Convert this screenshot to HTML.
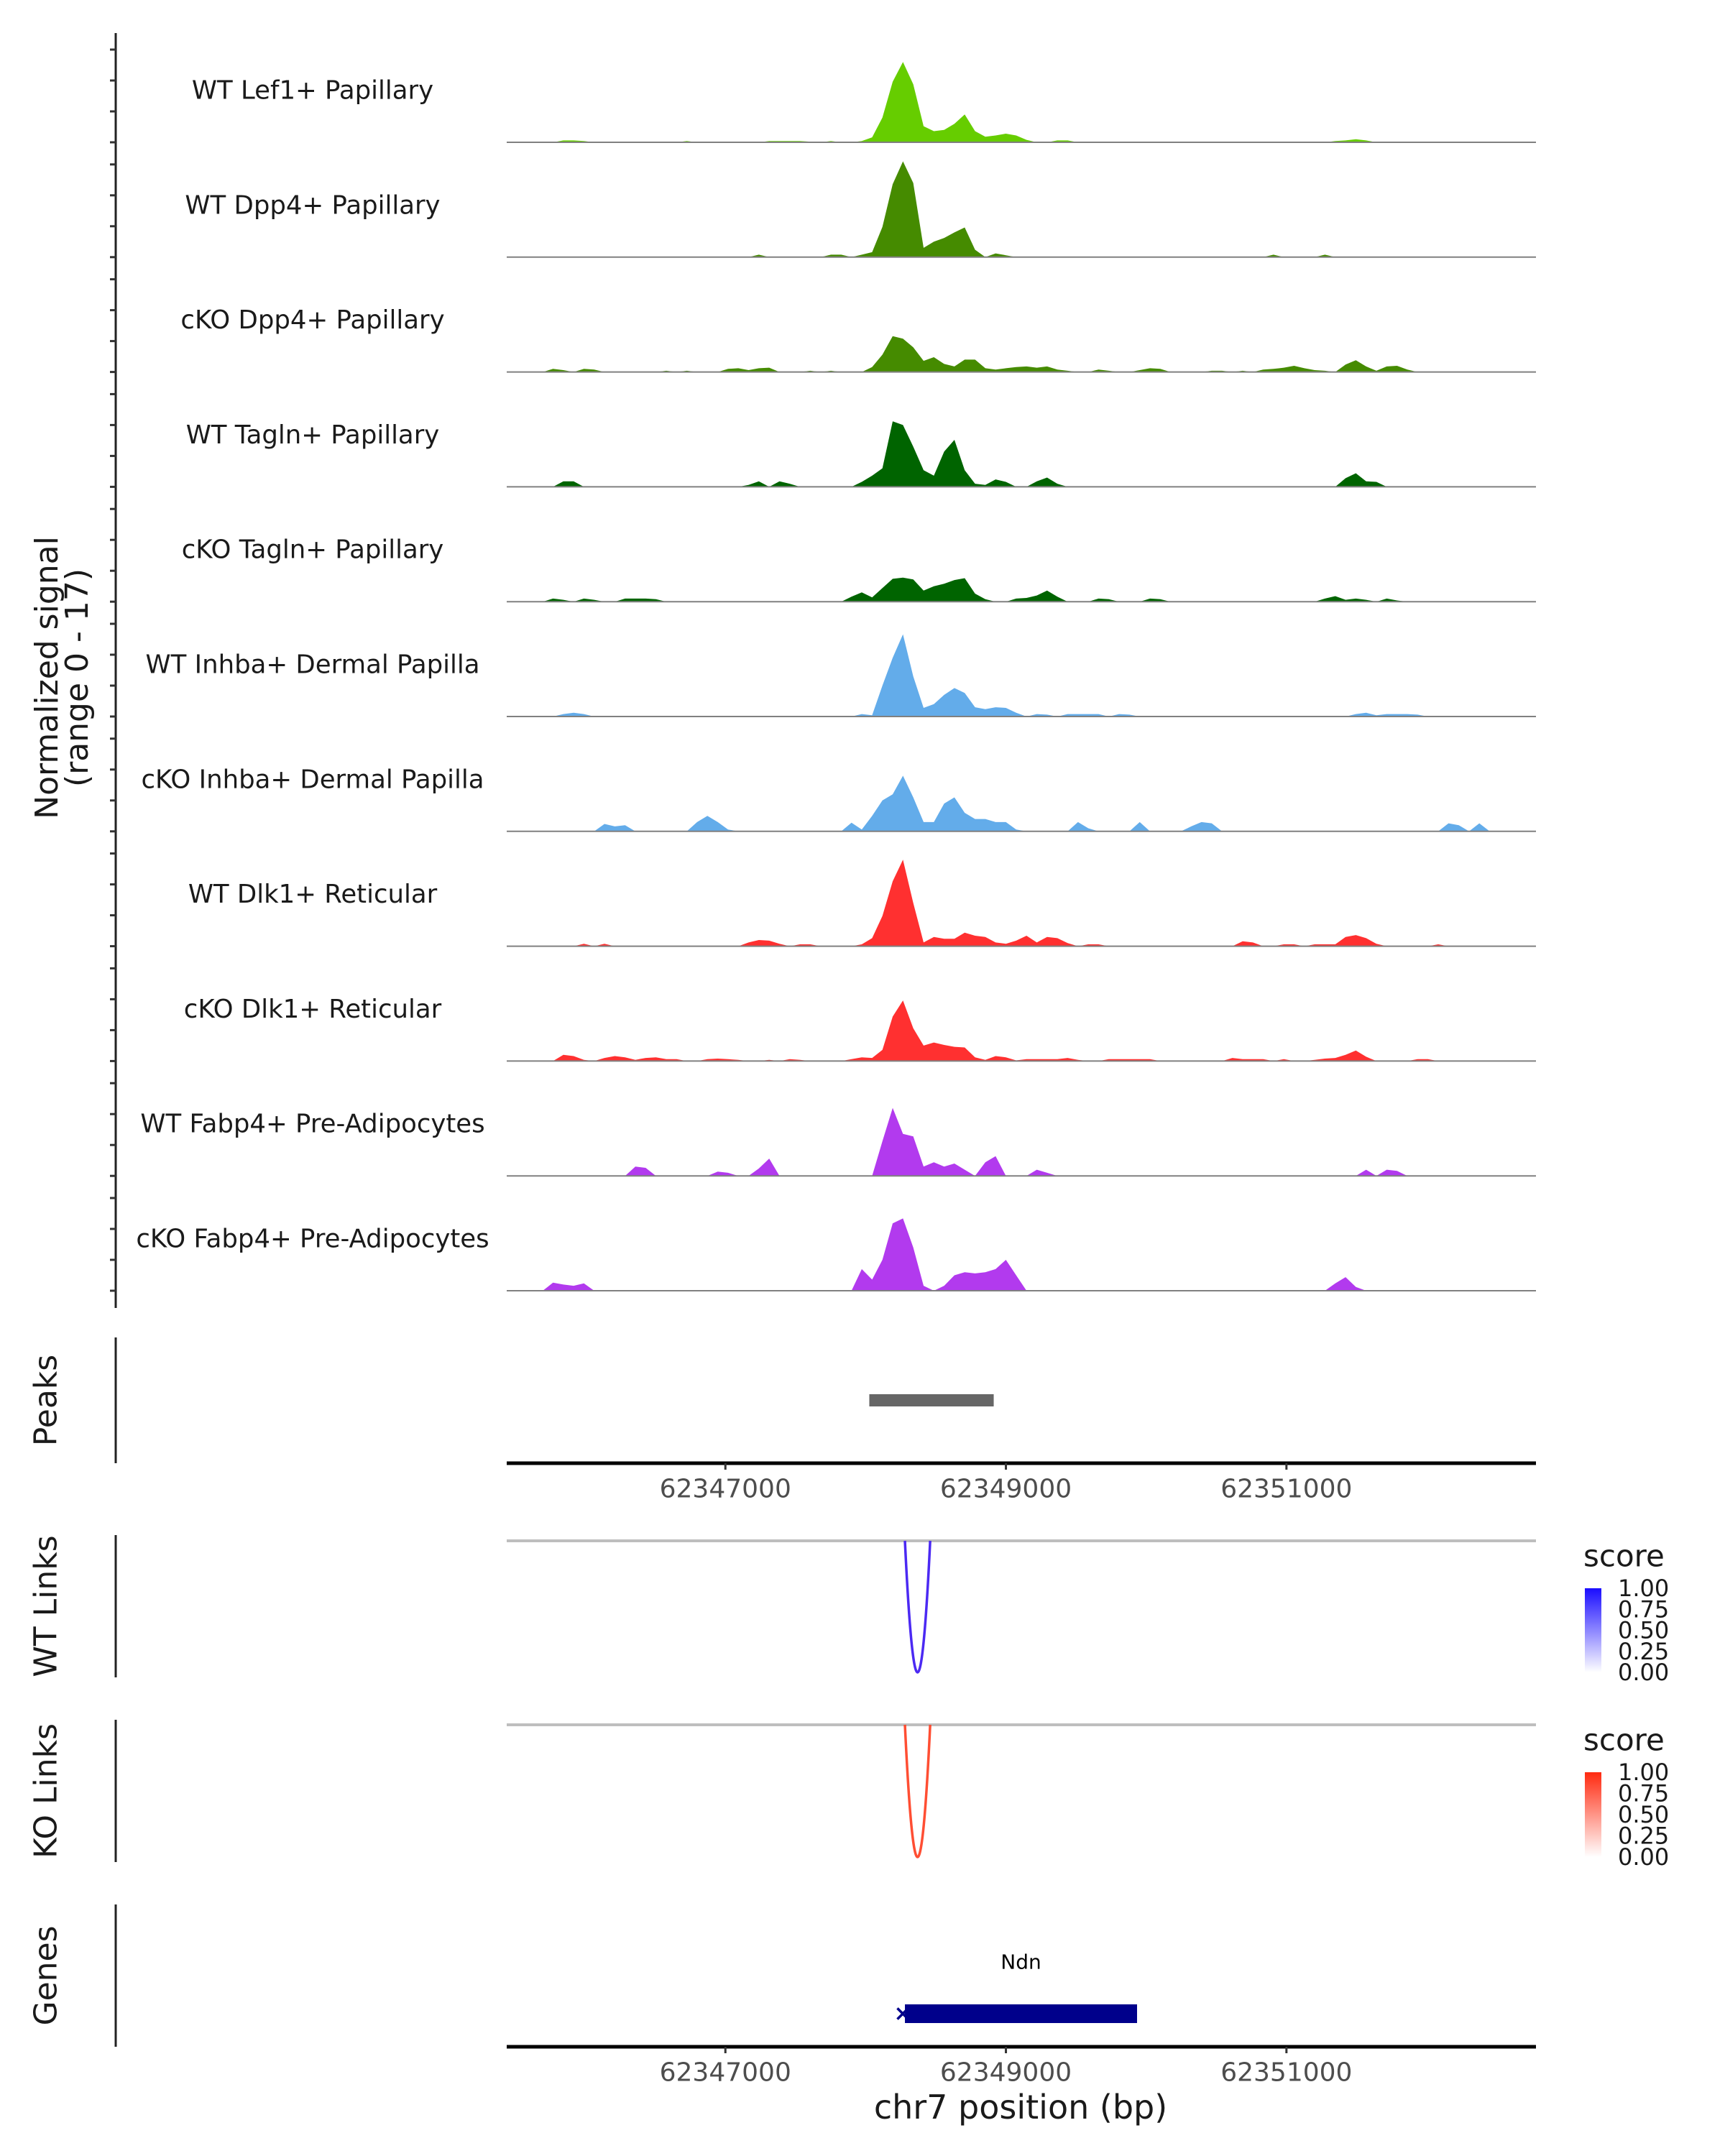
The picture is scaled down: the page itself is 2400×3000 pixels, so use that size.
<!DOCTYPE html>
<html><head><meta charset="utf-8">
<style>
html,body{margin:0;padding:0;background:#fff;}
svg{display:block;font-family:"DejaVu Sans","Liberation Sans",sans-serif;}
</style></head>
<body>
<svg id="chart" xmlns="http://www.w3.org/2000/svg" width="2400" height="3000" viewBox="0 0 2400 3000">
<defs>
<linearGradient id="gblue" x1="0" y1="0" x2="0" y2="1"><stop offset="0" stop-color="#1a0dff"/><stop offset="1" stop-color="#ffffff"/></linearGradient>
<linearGradient id="gred" x1="0" y1="0" x2="0" y2="1"><stop offset="0" stop-color="#ff2a10"/><stop offset="1" stop-color="#ffffff"/></linearGradient>
</defs>
<g id="tracks"></g>
<g id="lower"></g>
</svg>
<script>
// ---- data ----
const regionStart = 62345441;
const regionEnd = 62352779;
const nBins = 100;
const trackNames = ["WT Lef1+ Papillary","WT Dpp4+ Papillary","cKO Dpp4+ Papillary","WT Tagln+ Papillary","cKO Tagln+ Papillary","WT Inhba+ Dermal Papilla","cKO Inhba+ Dermal Papilla","WT Dlk1+ Reticular","cKO Dlk1+ Reticular","WT Fabp4+ Pre-Adipocytes","cKO Fabp4+ Pre-Adipocytes"];
const trackColors = ["#66cd00","#458b00","#458b00","#006400","#006400","#63acea","#63acea","#ff3030","#ff3030","#b23aee","#b23aee"];
// sparse signal: {bin: value}
const sigLef1 = {5:0.3,6:0.3,7:0.2,17:0.2,25:0.2,26:0.2,27:0.2,28:0.2,29:0.1,31:0.2,34:0.2,35:0.8,36:4,37:9.8,38:13,39:9.4,40:2.6,41:1.8,42:2,43:3,44:4.5,45:1.8,46:0.9,47:1.1,48:1.4,49:1.1,50:0.4,53:0.3,54:0.3,77:0.1,78:0.1,80:0.2,81:0.3,82:0.5,83:0.3,85:0.1,92:0.1};
const sigDpp4WT = {24:0.4,31:0.4,32:0.4,34:0.4,35:0.8,36:4.9,37:11.8,38:15.5,39:12,40:1.5,41:2.5,42:3.1,43:4,44:4.8,45:1.2,47:0.6,48:0.3,74:0.4,79:0.4};
const sigDpp4KO = {4:0.5,5:0.3,7:0.5,8:0.4,15:0.2,17:0.2,21:0.5,22:0.6,23:0.3,24:0.6,25:0.7,29:0.2,31:0.2,35:0.8,36:2.8,37:5.8,38:5.4,39:4,40:1.8,41:2.4,42:1.3,43:0.9,44:2,45:2,46:0.6,47:0.4,48:0.6,49:0.8,50:0.9,51:0.7,52:0.9,53:0.4,54:0.2,57:0.4,58:0.2,61:0.3,62:0.6,63:0.5,68:0.2,69:0.2,71:0.2,73:0.4,74:0.5,75:0.7,76:1.0,77:0.6,78:0.3,79:0.2,81:1.2,82:1.9,83:0.9,84:0.2,85:0.9,86:1.0,87:0.4};
const sigTaglnWT = {5:0.9,6:0.9,23:0.3,24:0.9,26:0.9,27:0.5,34:0.8,35:1.8,36:3,37:10.6,38:10,39:6.5,40:2.7,41:1.8,42:5.7,43:7.6,44:2.7,45:0.5,46:0.3,47:1.2,48:0.8,51:0.9,52:1.5,53:0.5,81:1.4,82:2.2,83:0.9,84:0.8};
const sigTaglnKO = {4:0.5,5:0.3,7:0.5,8:0.3,11:0.5,12:0.5,13:0.5,14:0.4,33:0.8,34:1.5,35:0.7,36:2.2,37:3.7,38:3.9,39:3.6,40:1.8,41:2.5,42:2.9,43:3.5,44:3.8,45:1.3,46:0.4,49:0.5,50:0.6,51:1.0,52:1.8,53:0.8,57:0.5,58:0.4,62:0.5,63:0.4,79:0.5,80:0.9,81:0.3,82:0.5,83:0.3,85:0.5,86:0.2};
const sigInhbaWT = {5:0.4,6:0.6,7:0.4,34:0.4,35:0.2,36:5,37:9.5,38:13.3,39:6.5,40:1.4,41:2,42:3.5,43:4.6,44:3.8,45:1.5,46:1.2,47:1.5,48:1.4,49:0.6,51:0.4,52:0.3,54:0.4,55:0.4,56:0.4,57:0.4,59:0.4,60:0.3,82:0.4,83:0.6,84:0.2,85:0.4,86:0.4,87:0.4,88:0.3};
const sigInhbaKO = {9:1.2,10:0.8,11:1.0,18:1.5,19:2.5,20:1.5,21:0.3,33:1.4,34:0.3,35:2.5,36:5,37:6,38:9,39:5.5,40:1.5,41:1.5,42:4.5,43:5.5,44:3,45:2,46:2,47:1.5,48:1.5,49:0.3,55:1.5,56:0.5,61:1.5,66:0.8,67:1.5,68:1.3,91:1.3,92:1.0,94:1.3};
const sigDlk1WT = {7:0.4,9:0.4,23:0.6,24:1.0,25:0.9,26:0.4,28:0.3,29:0.3,34:0.3,35:1.3,36:4.9,37:10.5,38:14,39:7,40:0.6,41:1.5,42:1.2,43:1.2,44:2.2,45:1.7,46:1.5,47:0.6,48:0.4,49:0.9,50:1.7,51:0.6,52:1.5,53:1.3,54:0.5,56:0.3,57:0.3,71:0.8,72:0.6,75:0.3,76:0.3,78:0.3,79:0.3,80:0.3,81:1.5,82:1.8,83:1.3,84:0.4,90:0.3};
const sigDlk1KO = {5:1.0,6:0.8,7:0.2,9:0.5,10:0.8,11:0.6,12:0.2,13:0.5,14:0.6,15:0.3,16:0.3,19:0.3,20:0.4,21:0.3,22:0.2,25:0.2,27:0.3,28:0.2,33:0.3,34:0.6,35:0.5,36:1.8,37:7.2,38:9.8,39:5.3,40:2.5,41:3,42:2.6,43:2.3,44:2.2,45:0.6,46:0.2,47:0.8,48:0.6,49:0.1,50:0.3,51:0.3,52:0.3,53:0.3,54:0.5,55:0.2,58:0.3,59:0.3,60:0.3,61:0.3,62:0.3,70:0.5,71:0.3,72:0.3,73:0.3,75:0.3,78:0.2,79:0.4,80:0.5,81:1.0,82:1.7,83:0.7,88:0.3,89:0.3};
const sigFabp4WT = {12:1.5,13:1.3,20:0.7,21:0.5,24:1.2,25:2.8,36:5.6,37:11,38:6.8,39:6.4,40:1.5,41:2.2,42:1.5,43:2,44:1,46:2.2,47:3.2,51:1.0,52:0.5,83:1.0,85:1.0,86:0.8};
const sigFabp4KO = {4:1.3,5:1.0,6:0.8,7:1.2,34:3.5,35:1.8,36:5,37:10.9,38:11.7,39:7,40:0.8,42:0.8,43:2.5,44:3,45:2.8,46:3,47:3.5,48:5,49:2.5,80:1.2,81:2.2,82:0.6};
const signals = [sigLef1,sigDpp4WT,sigDpp4KO,sigTaglnWT,sigTaglnKO,sigInhbaWT,sigInhbaKO,sigDlk1WT,sigDlk1KO,sigFabp4WT,sigFabp4KO];
const axisTicks = [62347000,62349000,62351000];
const peakStarts = [62348026];
const peakEnds = [62348913];
const wtLinkStarts = [62348280];
const wtLinkEnds = [62348460];
const wtLinkScores = [0.9];
const koLinkStarts = [62348280];
const koLinkEnds = [62348460];
const koLinkScores = [0.85];
const geneNames = ["Ndn"];
const geneStarts = [62348280];
const geneEnds = [62349935];
const legendTicks = ["1.00","0.75","0.50","0.25","0.00"];

// ---- scales ----
const X0 = 705, X1 = 2137;
function xs(bp){ return X0 + (bp - regionStart) / (regionEnd - regionStart) * (X1 - X0); }
const binBp = (regionEnd - regionStart) / nBins;
const pxPerUnit = 8.6;
function baseY(t){ return 198 + t * 159.8; }
const NS = "http://www.w3.org/2000/svg";
function mk(tag, attrs, parent){ const e=document.createElementNS(NS,tag); for(const k in attrs) e.setAttribute(k,attrs[k]); parent.appendChild(e); return e; }
const tracks = document.getElementById('tracks');
const lower = document.getElementById('lower');

let ax = mk('line',{x1:161,y1:46,x2:161,y2:1820,stroke:'#222','stroke-width':3},tracks);



signals.forEach((sig,t)=>{
  const by = baseY(t);
  for(let k=0;k<4;k++){
    const tk = mk('line',{x1:153,x2:161,y1:by-k*43,y2:by-k*43,stroke:'#333','stroke-width':3},tracks);
    
    
  }
  let d = 'M'+X0+','+by;
  for(let i=0;i<nBins;i++){
    const v = sig[i]||0;
    const xc = xs(regionStart + (i+0.5)*binBp);
    d += ' L'+xc.toFixed(1)+','+(by - v*pxPerUnit).toFixed(1);
  }
  d += ' L'+X1+','+by+' Z';
  const p = mk('path',{d:d,fill:trackColors[t],stroke:'none'},tracks);
  
  
  const bl = mk('line',{x1:X0,x2:X1,y1:by,y2:by,stroke:'#808080','stroke-width':2},tracks);
  
  
  const lb = mk('text',{x:435,y:by-72,'font-size':35.5,'text-anchor':'middle','dominant-baseline':'central',fill:'#1a1a1a'},tracks);
  lb.textContent = trackNames[t];
  
  
});

const yt = mk('text',{transform:'translate(80,943) rotate(-90)','font-size':44,'text-anchor':'middle',fill:'#1a1a1a'},tracks);


const ts1 = mk('tspan',{x:0,dy:0},yt); ts1.textContent='Normalized signal';
const ts2 = mk('tspan',{x:0,dy:42},yt); ts2.textContent='(range 0 - 17)';

function panelLabel(txt,y0,y1,name){
  const l = mk('line',{x1:161,x2:161,y1:y0,y2:y1,stroke:'#222','stroke-width':3},lower);
  
  
  const tx = mk('text',{transform:'translate(64,'+((y0+y1)/2)+') rotate(-90)','font-size':44,'text-anchor':'middle','dominant-baseline':'central',fill:'#1a1a1a'},lower);
  tx.textContent = txt;
  
  
}
function xAxis(y,name){
  const l = mk('line',{x1:X0,x2:X1,y1:y,y2:y,stroke:'#000','stroke-width':5},lower);
  
  
  axisTicks.forEach(v=>{
    const tk = mk('line',{x1:xs(v),x2:xs(v),y1:y,y2:y+9,stroke:'#333','stroke-width':3},lower);
    
    
    const tl = mk('text',{x:xs(v),y:y+36,'font-size':36,'text-anchor':'middle','dominant-baseline':'central',fill:'#4d4d4d'},lower);
    tl.textContent = String(v);
    
    
  });
}

panelLabel('Peaks',1861,2036,'peaks');
peakStarts.forEach((s,i)=>{
  const r = mk('rect',{x:xs(s),y:1940,width:xs(peakEnds[i])-xs(s),height:17,fill:'#666666'},lower);
  
  
});
xAxis(2036,'peaks');

function linkPanel(label,y0,y1,lineY,depthY,starts,ends,scores,col,grad,name){
  panelLabel(label,y0,y1,name);
  const g = mk('line',{x1:X0,x2:X1,y1:lineY,y2:lineY,stroke:'#bebebe','stroke-width':4},lower);
  
  
  starts.forEach((s,i)=>{
    const a=xs(s), b=xs(ends[i]), m=(a+b)/2;
    const cy = lineY + 2*(depthY-lineY);
    const p = mk('path',{d:'M'+a+','+lineY+' Q'+m+','+cy+' '+b+','+lineY,fill:'none',stroke:col,'stroke-width':3.5,opacity:0.6+0.4*scores[i]},lower);
    
    
  });
  const st = lineY + 21;
  const sc = mk('text',{x:2203,y:st,'font-size':42,'dominant-baseline':'central',fill:'#1a1a1a'},lower);
  sc.textContent='score';
  
  
  const bt = st+45, bb = depthY;
  const cb = mk('rect',{x:2205,y:bt,width:23,height:bb-bt,fill:'url(#'+grad+')'},lower);
  
  
  legendTicks.forEach((t,i)=>{
    const yy = bt + i*(bb-bt)/4;
    const tl = mk('text',{x:2251,y:yy,'font-size':32,'dominant-baseline':'central',fill:'#1a1a1a'},lower);
    tl.textContent=t;
    
    
  });
}
linkPanel('WT Links',2136,2334,2144,2327,wtLinkStarts,wtLinkEnds,wtLinkScores,'#4420f2','gblue','wt-links');
linkPanel('KO Links',2393,2591,2400,2584,koLinkStarts,koLinkEnds,koLinkScores,'#ff4326','gred','ko-links');

panelLabel('Genes',2650,2848,'genes');
geneStarts.forEach((s,i)=>{
  const r = mk('rect',{x:xs(s),y:2789,width:xs(geneEnds[i])-xs(s),height:26,fill:'#00008b'},lower);
  
  
  const ar = mk('text',{x:xs(s)-3,y:2802,'font-size':30,'font-weight':'bold','text-anchor':'middle','dominant-baseline':'central',fill:'#00008b'},lower);
  ar.textContent='×';
  
  
  const gl = mk('text',{x:(xs(s)+xs(geneEnds[i]))/2,y:2730,'font-size':28,'text-anchor':'middle','dominant-baseline':'central',fill:'#000'},lower);
  gl.textContent=geneNames[i];
  
  
});
xAxis(2848,'genes');
const xt = mk('text',{x:1420,y:2932,'font-size':46,'text-anchor':'middle','dominant-baseline':'central',fill:'#1a1a1a'},lower);
xt.textContent='chr7 position (bp)';


</script>
</body></html>
